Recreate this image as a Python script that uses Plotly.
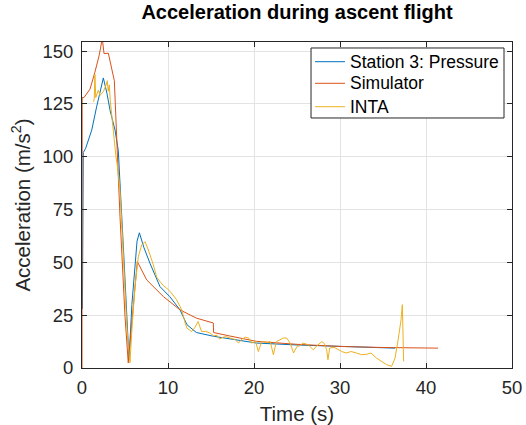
import plotly.graph_objects as go

# Station 3: Pressure
t_station = [0.05, 0.15, 0.43, 1.13, 1.7, 2.2, 2.48, 2.9, 3.26, 3.84, 4.22, 4.8, 5.2, 5.47, 5.8, 6.16, 6.4, 6.67, 7.2, 7.9,
             9.07, 10.2, 11.4, 12.2, 13.3, 15.3, 17, 20.3, 25, 30, 36.4]
a_station = [28, 102, 104, 112.6, 123.6, 133, 137.3, 130, 122, 112.6, 103, 58, 25, 3.9, 30, 50, 60, 64, 57, 49.6,
             38.5, 33.8, 27.5, 20.5, 16.8, 15, 13.8, 11.8, 10.9, 10.2, 9.4]

# Simulator
t_sim = [0, 0.02, 0.23, 0.93, 1.5, 2.0, 2.36, 2.56, 3.06, 3.76, 4.42, 5.0, 5.38, 6.43, 7.52, 9.46, 11.4, 13.3,
         15.27, 15.3, 17, 20.3, 25, 30, 35, 41.4]
a_sim = [0, 128, 128, 132, 140, 148, 156, 148.8, 149, 136, 71.6, 24.4, 2.4, 50.4, 41.7, 33.8, 27.5, 23.6,
         21.3, 16.8, 15.3, 12.6, 11.2, 10.2, 9.7, 9.4]

# INTA
t_inta = [1.35, 1.43, 1.5, 1.6, 1.9, 2.1, 2.29, 2.5, 2.79, 2.94, 3.05, 3.17, 3.3, 3.45, 3.64, 3.8, 3.95, 4.1, 4.22,
          4.42, 4.6, 4.8, 5.0, 5.19, 5.4, 5.58, 5.8, 6.16, 6.55, 6.94, 7.33, 7.71, 8.3, 8.68, 9.07, 9.46, 9.85,
          10.4, 11.0, 11.6, 12.0, 12.2, 12.5, 12.75, 13.1, 13.3, 13.5, 13.9, 14.4, 14.9, 15.3, 15.7, 16.0, 16.4,
          16.8, 17.2, 17.8, 18.2, 18.6, 19.0, 19.4, 19.7, 20.2, 20.5, 20.9, 21.5, 21.9, 22.25, 22.6, 23.0, 23.4,
          23.8, 24.2, 24.6, 25.0, 25.3, 25.7, 26.3, 26.9, 27.3, 27.7, 27.9, 28.2, 28.45, 28.6, 28.8, 29.3, 29.8,
          30.2, 30.7, 31.3, 31.9, 32.5, 33.1, 33.6, 34.25, 34.8, 35.4, 36.0, 36.4, 36.7, 36.9, 37.1, 37.25, 37.3,
          37.4]
a_inta = [126, 127.7, 139, 128, 131.5, 129, 130, 131, 133.8, 136, 131, 134, 126, 119.6, 114, 108, 100, 96, 92,
          84, 70, 52.7, 36, 21.3, 10, 2.5, 18, 38.5, 52.7, 58.2, 59.8, 55.9, 48.8, 43, 40.9, 39, 37.8,
          35.5, 32.3, 27.5, 21.3, 18.9, 18, 17.3, 19, 20.5, 22, 17.3, 17.3, 16.5, 15.2, 15.5, 13.7, 14.6,
          14.8, 14.2, 13.5, 11.8, 13.7, 14.6, 14.1, 11.8, 12.5, 7.8, 12.5, 12.1, 12.5, 6.3, 12.5, 13.3, 14.2,
          14.2, 11.8, 7.1, 10.2, 10.5, 11.8, 11, 8.6, 10.5, 11.8, 12.5, 11.5, 8.6, 3.9, 9.4, 9.8, 8.6,
          7.8, 7.1, 7.8, 7.1, 6.3, 6.5, 7.1, 4.7, 3.1, 1.6, 0.8, 4.7, 11.8, 16.5, 22.8, 30, 16.5,
          3.1]

series_names = ["Station 3: Pressure", "Simulator", "INTA"]
series_colors = ["#0072BD", "#D95319", "#EDB120"]

x_ticks = [0, 10, 20, 30, 40, 50]
y_ticks = [0, 25, 50, 75, 100, 125, 150]

FONT = "Liberation Sans, Arial, Helvetica, sans-serif"
AXC = "#262626"

fig = go.Figure()
for tx, ay, nm, col in zip([t_station, t_sim, t_inta], [a_station, a_sim, a_inta], series_names, series_colors):
    fig.add_trace(go.Scatter(x=tx, y=ay, mode="lines", name=nm, line=dict(color=col, width=1)))

axis_common = dict(showline=True, linecolor=AXC, linewidth=1, mirror="ticks", ticks="inside",
                   ticklen=5, tickcolor=AXC, showgrid=True, gridcolor="#e3e3e3", gridwidth=1,
                   zeroline=False, automargin=False,
                   tickfont=dict(family=FONT, size=18.5, color=AXC))

# MATLAB-style legend box (drawn in plot-area paper coordinates)
leg_box = dict(x0=0.5326, x1=0.9814, y0=0.7669, y1=0.9816)
leg_rows = [0.9396, 0.8733, 0.8015]
leg_line_x = (0.5419, 0.6116)
leg_text_x = 0.6186

shapes = [dict(type="rect", xref="paper", yref="paper", line=dict(color=AXC, width=1),
               fillcolor="white", layer="above", **leg_box)]
annotations = []
for yy, nm, col in zip(leg_rows, series_names, series_colors):
    shapes.append(dict(type="line", xref="paper", yref="paper", x0=leg_line_x[0], x1=leg_line_x[1],
                       y0=yy, y1=yy, line=dict(color=col, width=1), layer="above"))
    annotations.append(dict(text=nm, xref="paper", yref="paper", x=leg_text_x, y=yy, xanchor="left",
                            yanchor="middle", showarrow=False,
                            font=dict(family=FONT, size=17.5, color="black")))

fig.update_layout(
    width=526, height=425,
    margin=dict(l=82, r=14, t=42, b=57),
    paper_bgcolor="white", plot_bgcolor="white",
    title=dict(text="<b>Acceleration during ascent flight</b>", x=297/526, xanchor="center",
               y=1-12/425, yanchor="middle", font=dict(family=FONT, size=20, color="black")),
    xaxis=dict(range=[0, 50], tickvals=x_ticks, ticktext=[str(v) for v in x_ticks], ticklabelstandoff=3,
               title=dict(text="Time (s)", font=dict(family=FONT, size=20.5, color=AXC), standoff=10),
               **axis_common),
    yaxis=dict(range=[0, 154.3], tickvals=y_ticks, ticktext=[str(v) for v in y_ticks], ticklabelstandoff=4,
               title=dict(text="Acceleration (m/s<sup>2</sup>)", font=dict(family=FONT, size=20.5, color=AXC), standoff=6),
               **axis_common),
    shapes=shapes,
    annotations=annotations,
    showlegend=False,
    hovermode=False,
)

fig.write_html("out.html", config={"displayModeBar": False, "staticPlot": True},
               post_script="document.body.style.margin='0';document.body.style.overflow='hidden';")
